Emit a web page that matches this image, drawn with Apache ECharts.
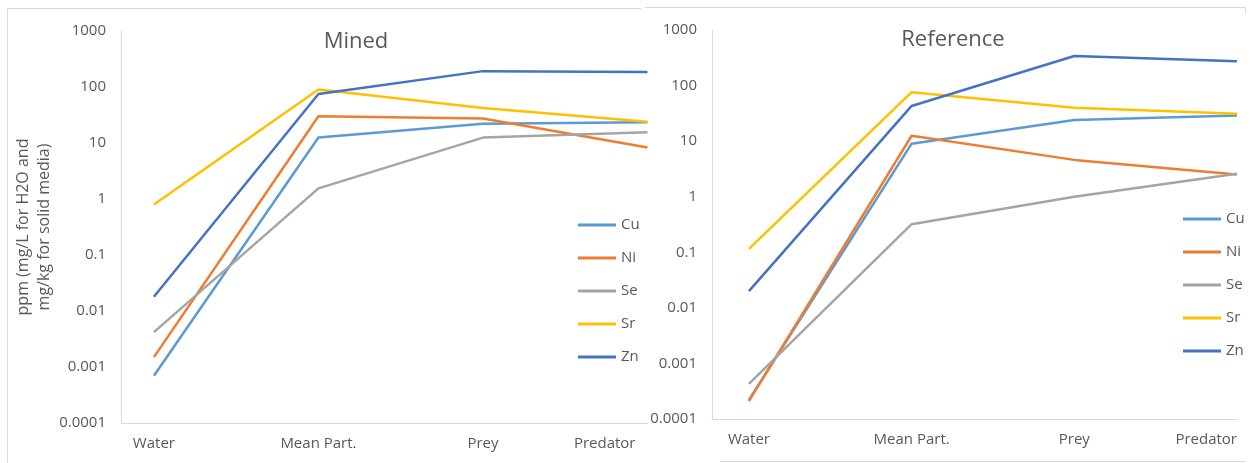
<!DOCTYPE html>
<html>
<head>
<meta charset="utf-8">
<script src="https://cdn.jsdelivr.net/npm/echarts@6/dist/echarts.min.js"></script>
<style>
html,body{margin:0;padding:0;background:#fff;}
#chart{width:1250px;height:463px;}
</style>
</head>
<body>
<div id="chart"></div>
<script>
// ---- data ----
const categories = ['Water', 'Mean Part.', 'Prey', 'Predator'];
const elements = ['Cu', 'Ni', 'Se', 'Sr', 'Zn'];
const yTickLabels = ['0.0001', '0.001', '0.01', '0.1', '1', '10', '100', '1000'];

const minedCu = [0.0007, 12.5, 22, 23.5];
const minedNi = [0.0015, 30, 27.5, 8.3];
const minedSe = [0.0042, 1.55, 12.5, 15.5];
const minedSr = [0.8, 90, 42, 24];
const minedZn = [0.018, 75, 192, 185];

const refCu = [0.00022, 9, 24, 29];
const refNi = [0.00021, 12.5, 4.6, 2.5];
const refSe = [0.00043, 0.32, 1.0, 2.6];
const refSr = [0.115, 76, 40, 31];
const refZn = [0.02, 43, 340, 275];

const titles = ['Mined', 'Reference'];
const yAxisName = 'ppm (mg/L for H2O and\nmg/kg for solid media)';

// ---- styles ----
const colors = {Cu: '#5B9BD5', Ni: '#ED7D31', Se: '#A5A5A5', Sr: '#FFC000', Zn: '#4472C4'};
const font = '"Open Sans", "Noto Sans", sans-serif';
const txt = '#595959';
const axisGray = '#D9D9D9';

const minedData = {Cu: minedCu, Ni: minedNi, Se: minedSe, Sr: minedSr, Zn: minedZn};
const refData = {Cu: refCu, Ni: refNi, Se: refSe, Sr: refSr, Zn: refZn};

function xAxis(gridIndex, min, padRight) {
  return {
    gridIndex: gridIndex, type: 'value', min: min, max: categories.length - 1,
    axisLine: {show: true, onZero: false, lineStyle: {color: axisGray, width: 1}},
    axisTick: {show: false}, splitLine: {show: false},
    axisLabel: {
      customValues: categories.map((c, i) => i),
      formatter: v => {
        const i = Math.round(v);
        return i === categories.length - 1 ? '{p|' + categories[i] + '}' : categories[i];
      },
      rich: {p: {padding: [0, padRight, 0, 0], fontSize: 15, fontFamily: font, color: txt}},
      alignMaxLabel: 'right',
      color: txt, fontSize: 15, fontFamily: font, margin: 13
    }
  };
}
function yAxis(gridIndex, withName) {
  const ax = {
    gridIndex: gridIndex, type: 'log', logBase: 10, min: 0.0001, max: 1000,
    axisLine: {show: true, onZero: false, lineStyle: {color: axisGray, width: 1}},
    axisTick: {show: false}, splitLine: {show: false},
    axisLabel: {
      customValues: yTickLabels.map(Number),
      formatter: v => yTickLabels[Math.round(Math.log10(v)) + 4],
      color: txt, fontSize: 15, fontFamily: font, margin: 15
    }
  };
  if (withName) {
    Object.assign(ax, {
      name: yAxisName, nameLocation: 'middle', nameGap: 62, nameRotate: 90,
      nameTextStyle: {color: txt, fontSize: 16, fontFamily: font, lineHeight: 21, align: 'center'}
    });
  }
  return ax;
}

const series = [];
elements.forEach(el => {
  series.push({
    name: el, type: 'line', xAxisIndex: 0, yAxisIndex: 0,
    data: minedData[el].map((v, i) => [i, v]),
    symbol: 'none', lineStyle: {color: colors[el], width: 2.5}, itemStyle: {color: colors[el]},
    animation: false
  });
  series.push({
    name: el, type: 'line', xAxisIndex: 1, yAxisIndex: 1,
    data: refData[el].map((v, i) => [i, v]),
    symbol: 'none', lineStyle: {color: colors[el], width: 2.5}, itemStyle: {color: colors[el]},
    animation: false
  });
});

function legend(left, top) {
  return {
    data: elements, orient: 'vertical', left: left, top: top,
    icon: 'rect', itemWidth: 38, itemHeight: 3, itemGap: 13,
    textStyle: {color: txt, fontSize: 15, fontFamily: font, lineHeight: 20},
    selectedMode: false
  };
}

const option = {
  backgroundColor: '#fff',
  animation: false,
  grid: [
    {left: 121, top: 31, width: 526.5, height: 392},
    {left: 712, top: 30, width: 525, height: 389}
  ],
  xAxis: [xAxis(0, -0.2, 12), xAxis(1, -0.227, 0)],
  yAxis: [yAxis(0, true), yAxis(1, false)],
  legend: [legend(573, 210), legend(1178, 204)],
  graphic: [
    {type: 'polyline', shape: {points: [[7.5, 463], [7.5, 8.5], [641, 8.5]]}, style: {stroke: axisGray, fill: null, lineWidth: 1}, silent: true},
    {type: 'polyline', shape: {points: [[645, 7.5], [1245.5, 7.5], [1245.5, 14]]}, style: {stroke: axisGray, fill: null, lineWidth: 1}, silent: true},
    {type: 'line', shape: {x1: 720, y1: 461.5, x2: 1245, y2: 461.5}, style: {stroke: axisGray, lineWidth: 1}, silent: true},
    {type: 'text', x: 356, y: 42, style: {text: titles[0], align: 'center', verticalAlign: 'middle', font: '22px "Open Sans", "Noto Sans", sans-serif', fill: txt}, silent: true},
    {type: 'text', x: 953, y: 40, style: {text: titles[1], align: 'center', verticalAlign: 'middle', font: '22px "Open Sans", "Noto Sans", sans-serif', fill: txt}, silent: true}
  ],
  series: series
};

const chart = echarts.init(document.getElementById('chart'), null, {renderer: 'canvas'});
chart.setOption(option);
</script>
</body>
</html>
